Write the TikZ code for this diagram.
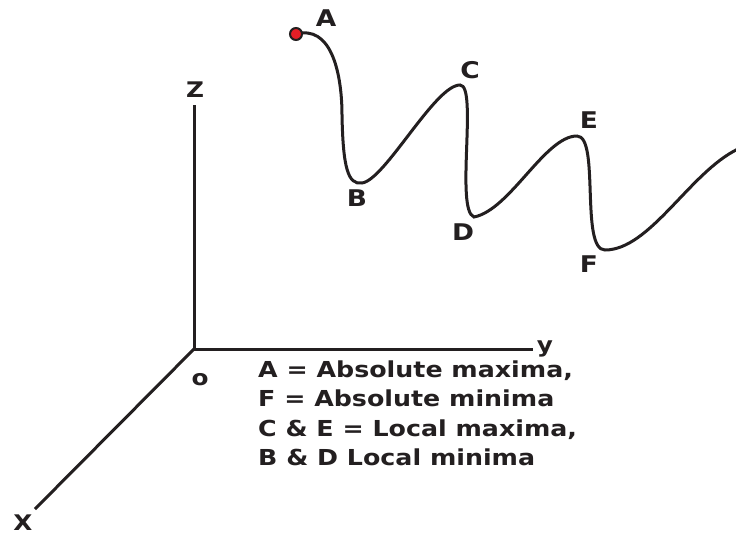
\documentclass[tikz,border=0pt]{standalone}
\usepackage{fontspec}
\setmainfont{DejaVu Sans}[FakeStretch=1.15]
\usepackage{tikz}
\definecolor{ink}{RGB}{35,31,32}
\definecolor{dotred}{RGB}{228,30,38}

\begin{document}
\begin{tikzpicture}[x=1pt,y=-1pt,
    axis/.style={draw=ink,line width=3pt},
    curve/.style={draw=ink,line width=3pt},
    ptlabel/.style={inner sep=0pt,text=ink,font=\bfseries\fontsize{23}{27}\selectfont},
    axlabel/.style={inner sep=0pt,text=ink,font=\bfseries\fontsize{21.5}{25}\selectfont},
    legend/.style={inner sep=0pt,anchor=base west,text=ink,font=\bfseries\fontsize{22}{29}\selectfont}]
    \useasboundingbox (0,0) rectangle (736,536);

    % Axes
    \coordinate (O) at (194,349);
    \coordinate (zend) at (194,105);
    \coordinate (yend) at (533,349);
    \coordinate (xend) at (35,509);
    \draw[axis] (zend) -- (O) -- (yend);
    \draw[axis] (O) -- (xend);

    % Axis labels
    \node[axlabel] (zlab) at (195,90) {Z};
    \node[axlabel] (ylab) at (545,349) {y};
    \node[axlabel] (xlab) at (23,523) {X};
    \node[axlabel] (olab) at (200,380) {o};

    % Turning points of the curve
    \coordinate (A) at (302,33);
    \coordinate (B) at (362,183);
    \coordinate (C) at (460,85);
    \coordinate (D) at (474,217);
    \coordinate (E) at (577,136);
    \coordinate (F) at (605,250);
    \coordinate (G) at (738,149);

    % Connect points
    \draw[curve] (A) .. controls (334,30) and (342,80) .. (342,115)
        .. controls (343,168) and (348,185) .. (B)
        .. controls (385,180) and (435,85) .. (C)
        .. controls (478,85) and (455,210) .. (D)
        .. controls (510,210) and (545,136) .. (E)
        .. controls (600,136) and (580,250) .. (F)
        .. controls (650,250) and (690,172) .. (G);

    % Starting dot
    \node[circle,draw=ink,fill=dotred,line width=2pt,minimum size=12pt,inner sep=0pt] (dot) at (296,34) {};

    % Point labels
    \node[ptlabel] (Alab) at (326,18) {A};
    \node[ptlabel] (Blab) at (357,198) {B};
    \node[ptlabel] (Clab) at (470,70) {C};
    \node[ptlabel] (Dlab) at (463,232) {D};
    \node[ptlabel] (Elab) at (589,120) {E};
    \node[ptlabel] (Flab) at (589,264) {F};

    % Legend
    \node[legend] (leg1) at (258,377) {A = Absolute maxima,};
    \node[legend] (leg2) at (258,406) {F = Absolute minima};
    \node[legend] (leg3) at (258,436) {C \& E = Local maxima,};
    \node[legend] (leg4) at (258,465) {B \& D Local minima};
\end{tikzpicture}
\end{document}
